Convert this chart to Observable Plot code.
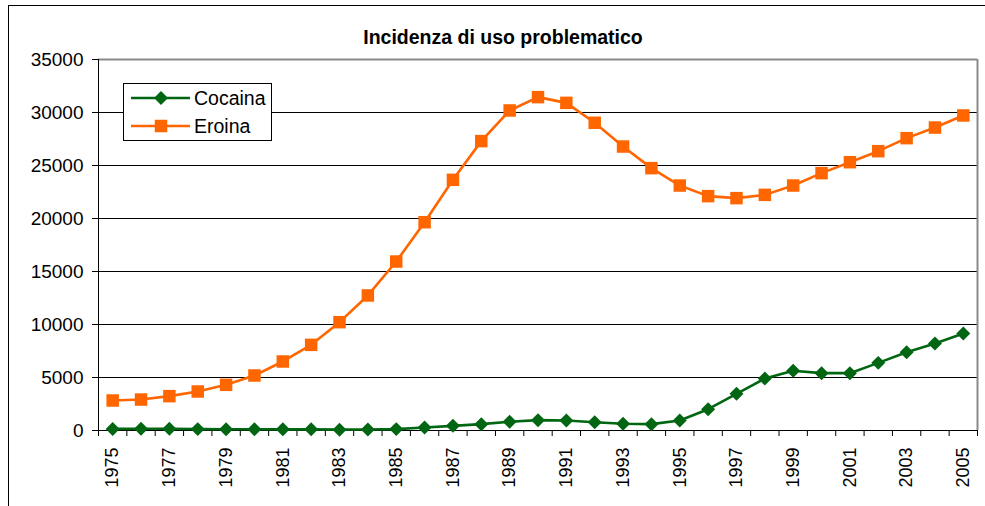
<!DOCTYPE html>
<html><head><meta charset="utf-8">
<script src="https://cdn.jsdelivr.net/npm/d3@7"></script>
<script src="https://cdn.jsdelivr.net/npm/@observablehq/plot@0.6"></script>
<style>
body{margin:0;background:#fff;}
#wrap{position:relative;width:985px;height:506px;overflow:hidden;font-family:"Liberation Sans",Arial,sans-serif;}
#frame{position:absolute;left:8px;top:5px;width:990px;height:520px;border-left:1px solid #000;border-top:1px solid #000;pointer-events:none;}
#legend{position:absolute;left:123px;top:83px;width:149px;height:58px;border:1px solid #000;background:#fff;box-sizing:border-box;}
#legend svg{position:absolute;left:0;top:0;}
</style></head>
<body><div id="wrap"><div id="frame"></div></div>
<script>
const title = "Incidenza di uso problematico";
const years = [1975,1976,1977,1978,1979,1980,1981,1982,1983,1984,1985,1986,1987,1988,1989,1990,1991,1992,1993,1994,1995,1996,1997,1998,1999,2000,2001,2002,2003,2004,2005];
const cocaina = [150,170,160,130,120,120,110,110,80,100,130,280,440,600,820,975,945,785,630,600,945,2010,3460,4900,5630,5410,5410,6380,7390,8210,9150];
const eroina = [2830,2920,3240,3680,4310,5190,6510,8080,10220,12740,15940,19650,23650,27300,30190,31450,30910,29030,26790,24750,23110,22110,21920,22230,23110,24280,25310,26350,27580,28580,29720];
const seriesNames = ["Cocaina","Eroina"];
const colors = ["#006611","#FF6600"];
const yTicks = [0,5000,10000,15000,20000,25000,30000,35000];
const labelYears = [1975,1977,1979,1981,1983,1985,1987,1989,1991,1993,1995,1997,1999,2001,2003,2005];

const font = '"Liberation Sans", Arial, sans-serif';
const cocData = years.map((y,i)=>({year:y, value:cocaina[i]}));
const eroData = years.map((y,i)=>({year:y, value:eroina[i]}));
const boundaries = [years[0]-0.5, ...years.map(y=>y+0.5)];
const xMin = boundaries[0], xMax = boundaries[boundaries.length-1];
const yMax = yTicks[yTicks.length-1];
const diamond = d3.symbolDiamond2 || "diamond";

const chart = Plot.plot({
  width:985, height:506,
  marginLeft:98, marginRight:8, marginTop:59, marginBottom:76,
  style:{fontFamily:font, fontSize:"19px", color:"#000", background:"transparent", overflow:"visible"},
  x:{type:"linear", domain:[xMin,xMax], label:null},
  y:{domain:[0,yMax], label:null},
  marks:[
    Plot.gridY(yTicks.slice(1,-1),{stroke:"#000", strokeOpacity:1, strokeWidth:1}),
    Plot.ruleY([yMax],{stroke:"#8a8a8a", strokeWidth:2}),
    Plot.ruleX([xMax],{stroke:"#8a8a8a", strokeWidth:2}),
    Plot.axisY(yTicks,{tickSize:6, tickPadding:9, tickFormat:d=>String(d), stroke:"#000", fontSize:19, label:null}),
    Plot.axisX(boundaries,{tickSize:6, tickFormat:()=>"", stroke:"#000", label:null}),
    Plot.axisX(labelYears,{tickSize:0, tickPadding:17, tickRotate:-90, tickFormat:d=>String(d), fontSize:18, label:null}),
    Plot.ruleX([xMin],{stroke:"#000", strokeWidth:1}),
    Plot.ruleY([0],{stroke:"#000", strokeWidth:1}),
    Plot.lineY(cocData,{x:"year", y:"value", stroke:colors[0], strokeWidth:2.6}),
    Plot.dot(cocData,{x:"year", y:"value", symbol:diamond, r:6.3, fill:colors[0], stroke:"none"}),
    Plot.lineY(eroData,{x:"year", y:"value", stroke:colors[1], strokeWidth:2.6}),
    Plot.dot(eroData,{x:"year", y:"value", symbol:"square", r:7.05, fill:colors[1], stroke:"none"}),
    Plot.text([title],{frameAnchor:"top", dx:-35, dy:-29, fontWeight:"bold", fontSize:19.5, fill:"#000"})
  ]
});
const wrap = document.getElementById("wrap");
wrap.insertBefore(chart, wrap.firstChild);

// legend
const leg = document.createElement("div");
leg.id = "legend";
wrap.appendChild(leg);
const svg = d3.select(leg).append("svg").attr("width",149).attr("height",58);
const symbols = [diamond, d3.symbolSquare];
const sizes = [Math.PI*6.3*6.3, Math.PI*7.05*7.05];
seriesNames.forEach((name,i)=>{
  const cy = i===0 ? 14 : 42;
  const g = svg.append("g");
  g.append("line").attr("x1",7).attr("x2",66).attr("y1",cy).attr("y2",cy).attr("stroke",colors[i]).attr("stroke-width",2.6);
  g.append("path").attr("d",d3.symbol(symbols[i], sizes[i])()).attr("transform",`translate(37,${cy})`).attr("fill",colors[i]);
  g.append("text").attr("x",70).attr("y",cy).attr("dy","0.35em").attr("font-family",font).attr("font-size",19.5).attr("fill","#000").text(name);
});
</script>
</body></html>
